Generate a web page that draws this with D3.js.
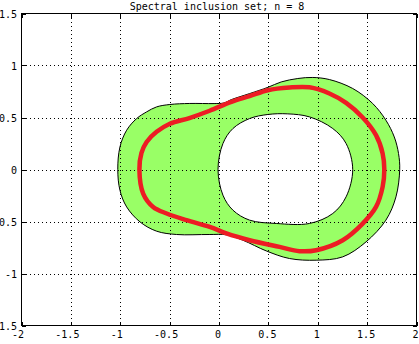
<!DOCTYPE html>
<html>
<head>
<meta charset="UTF-8">
<script src="https://d3js.org/d3.v7.min.js"></script>
<style>
  body { margin: 0; background: #fff; }
  svg { display: block; }
  text { font-family: "DejaVu Sans Mono", monospace; font-size: 10px; fill: #000; }
</style>
</head>
<body>
<svg width="419" height="344"></svg>
<script>
const title = "Spectral inclusion set; n = 8";
const xTicks = [-2, -1.5, -1, -0.5, 0, 0.5, 1, 1.5, 2];
const yTicks = [-1.5, -1, -0.5, 0, 0.5, 1, 1.5];

// outer edge of the green set
const outerEdge = [
  [1.83, 0], [1.818, 0.154], [1.775, 0.313], [1.69, 0.474], [1.556, 0.635],
  [1.354, 0.779], [1.118, 0.865], [0.95, 0.885], [0.798, 0.875], [0.63, 0.842],
  [0.495, 0.79], [0.31, 0.73], [0.125, 0.672], [0.05, 0.64], [-0.05, 0.634],
  [-0.296, 0.635], [-0.498, 0.625], [-0.632, 0.602], [-0.733, 0.554], [-0.834, 0.49],
  [-0.935, 0.378], [-1.003, 0.217], [-1.025, 0], [-1.003, -0.2], [-0.935, -0.36],
  [-0.8, -0.504], [-0.632, -0.593], [-0.43, -0.625], [-0.1, -0.625], [0.075, -0.628],
  [0.242, -0.68], [0.479, -0.783], [0.714, -0.856], [0.984, -0.872], [1.253, -0.84],
  [1.489, -0.696], [1.69, -0.487], [1.792, -0.263]
];

// hole in the middle
const innerEdge = [
  [1.354, 0], [1.287, 0.25], [1.152, 0.394], [0.916, 0.506], [0.697, 0.535],
  [0.495, 0.529], [0.31, 0.49], [0.141, 0.394], [0.04, 0.25], [-0.01, 0],
  [0.04, -0.247], [0.141, -0.391], [0.31, -0.487], [0.58, -0.519], [0.916, -0.519],
  [1.152, -0.423], [1.287, -0.263]
];

// red curve
const redCurve = [
  [1.674, 0], [1.657, 0.154], [1.59, 0.33], [1.455, 0.5], [1.287, 0.64],
  [1.118, 0.731], [0.916, 0.79], [0.714, 0.788], [0.495, 0.762], [0.31, 0.705],
  [0.125, 0.65], [-0.094, 0.565], [-0.3, 0.495], [-0.498, 0.44], [-0.632, 0.362],
  [-0.733, 0.265], [-0.785, 0.16], [-0.806, 0], [-0.768, -0.231], [-0.667, -0.36],
  [-0.53, -0.423], [-0.33, -0.487], [-0.094, -0.552], [0.075, -0.615], [0.31, -0.68],
  [0.613, -0.744], [0.815, -0.785], [0.984, -0.776], [1.253, -0.68], [1.455, -0.52],
  [1.59, -0.36], [1.657, -0.167]
];

const svg = d3.select("svg");
const pLeft = 21.5, pRight = 416.5, pTop = 13.5, pBottom = 325.5;

const x = d3.scaleLinear().domain([-2, 2]).range([pLeft, pRight]);
const y = d3.scaleLinear().domain([-1.5, 1.5]).range([pBottom, pTop]);

const closed = d3.line()
  .x(d => x(d[0]))
  .y(d => y(d[1]))
  .curve(d3.curveCatmullRomClosed.alpha(0.5));

// green set with hole
svg.append("path")
  .attr("d", closed(outerEdge) + closed(innerEdge))
  .attr("fill", "#99ff66")
  .attr("fill-rule", "evenodd")
  .attr("stroke", "#000")
  .attr("stroke-width", 1);

// grid
const grid = svg.append("g")
  .attr("stroke", "#000")
  .attr("stroke-width", 1)
  .attr("stroke-dasharray", "1,3")
  .attr("shape-rendering", "crispEdges");

grid.selectAll(".gx")
  .data(xTicks.slice(1, -1))
  .enter().append("line")
  .attr("x1", d => Math.round(x(d)) + 0.5)
  .attr("x2", d => Math.round(x(d)) + 0.5)
  .attr("y1", pTop)
  .attr("y2", pBottom);

grid.selectAll(".gy")
  .data(yTicks.slice(1, -1))
  .enter().append("line")
  .attr("y1", d => Math.round(y(d)) + 0.5)
  .attr("y2", d => Math.round(y(d)) + 0.5)
  .attr("x1", pLeft)
  .attr("x2", pRight);

// red curve
svg.append("path")
  .attr("d", closed(redCurve))
  .attr("fill", "none")
  .attr("stroke", "#ed1c24")
  .attr("stroke-width", 4.5);

// axes box and ticks
const ax = svg.append("g")
  .attr("stroke", "#000")
  .attr("stroke-width", 1)
  .attr("shape-rendering", "crispEdges");

ax.append("rect")
  .attr("x", pLeft).attr("y", pTop)
  .attr("width", pRight - pLeft).attr("height", pBottom - pTop)
  .attr("fill", "none");

xTicks.forEach(v => {
  const px = Math.round(x(v)) + 0.5;
  ax.append("line").attr("x1", px).attr("x2", px).attr("y1", pBottom).attr("y2", pBottom - 4);
  ax.append("line").attr("x1", px).attr("x2", px).attr("y1", pTop).attr("y2", pTop + 4);
});
yTicks.forEach(v => {
  const py = Math.round(y(v)) + 0.5;
  ax.append("line").attr("y1", py).attr("y2", py).attr("x1", pLeft).attr("x2", pLeft + 4);
  ax.append("line").attr("y1", py).attr("y2", py).attr("x1", pRight).attr("x2", pRight - 4);
});

// tick labels
svg.selectAll(".xl")
  .data(xTicks)
  .enter().append("text")
  .attr("x", d => x(d) - (d < 0 ? 3.5 : 1))
  .attr("y", 338)
  .attr("text-anchor", "middle")
  .text(d => String(d));

svg.selectAll(".yl")
  .data(yTicks)
  .enter().append("text")
  .attr("x", 17)
  .attr("y", d => y(d) + 4.5)
  .attr("text-anchor", "end")
  .text(d => String(d));

svg.append("text")
  .attr("x", 217)
  .attr("y", 10)
  .attr("text-anchor", "middle")
  .text(title);
</script>
</body>
</html>
